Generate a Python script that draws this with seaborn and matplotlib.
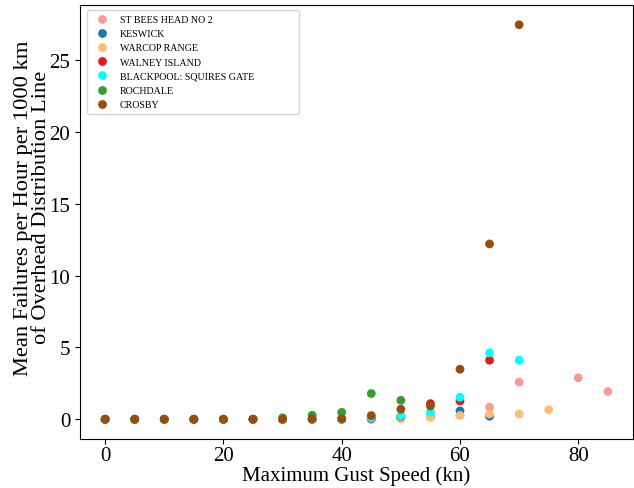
import numpy as np
import pandas as pd
import matplotlib
matplotlib.use("Agg")
import matplotlib.pyplot as plt
import seaborn as sns

# gust speed bins (kn) and mean failure rates per station
stations = ["ST BEES HEAD NO 2", "KESWICK", "WARCOP RANGE", "WALNEY ISLAND",
            "BLACKPOOL: SQUIRES GATE", "ROCHDALE", "CROSBY"]

st_bees_speed = [0, 5, 10, 15, 20, 25, 30, 35, 40, 45, 50, 55, 60, 65, 70, 80, 85]
st_bees_rate = [0, 0, 0, 0, 0, 0, 0, 0, 0, 0.02, 0.05, 0.15, 0.3, 0.84, 2.58, 2.88, 1.93]

keswick_speed = [0, 5, 10, 15, 20, 25, 30, 35, 40, 45, 50, 55, 60, 65]
keswick_rate = [0, 0, 0, 0, 0, 0, 0, 0, 0, 0.02, 0.1, 0.2, 0.58, 0.21]

warcop_speed = [0, 5, 10, 15, 20, 25, 30, 35, 40, 45, 50, 55, 60, 65, 70, 75]
warcop_rate = [0, 0, 0, 0, 0, 0, 0, 0, 0, 0.0, 0.05, 0.14, 0.26, 0.37, 0.37, 0.67]

walney_speed = [0, 5, 10, 15, 20, 25, 30, 35, 40, 45, 50, 55, 60, 65]
walney_rate = [0, 0, 0, 0, 0, 0, 0, 0, 0, 0.05, 0.2, 1.09, 1.28, 4.11]

blackpool_speed = [0, 5, 10, 15, 20, 25, 30, 35, 40, 45, 50, 55, 60, 65, 70]
blackpool_rate = [0, 0, 0, 0, 0, 0, 0, 0, 0, 0.1, 0.23, 0.51, 1.53, 4.62, 4.11]

rochdale_speed = [0, 5, 10, 15, 20, 25, 30, 35, 40, 45, 50]
rochdale_rate = [0, 0, 0, 0, 0, 0, 0.1, 0.28, 0.48, 1.79, 1.32]

crosby_speed = [0, 5, 10, 15, 20, 25, 30, 35, 40, 45, 50, 55, 60, 65, 70]
crosby_rate = [0, 0, 0, 0, 0, 0, 0, 0.02, 0.04, 0.26, 0.7, 0.93, 3.48, 12.2, 27.45]

colours = ["#fb9a99", "#1f78b4", "#fdbf6f", "#e31a1c", "#00ffff", "#33a02c", "#9a4b0e"]

speeds = [st_bees_speed, keswick_speed, warcop_speed, walney_speed,
          blackpool_speed, rochdale_speed, crosby_speed]
rates = [st_bees_rate, keswick_rate, warcop_rate, walney_rate,
         blackpool_rate, rochdale_rate, crosby_rate]

frames = []
for name, sp, rt in zip(stations, speeds, rates):
    frames.append(pd.DataFrame({"speed": sp, "rate": rt, "station": name}))
df = pd.concat(frames, ignore_index=True)

plt.rcParams["font.family"] = ["Liberation Serif", "DejaVu Serif"]

fig = plt.figure(figsize=(6.34, 4.89), dpi=100)
ax = fig.add_axes([0.1262, 0.1002, 0.8722, 0.8875])

sns.scatterplot(data=df, x="speed", y="rate", hue="station",
                hue_order=stations, palette=dict(zip(stations, colours)),
                s=40, linewidth=0, ax=ax)

ax.set_xlabel("Maximum Gust Speed (kn)", fontsize=15, labelpad=0)
ax.set_ylabel("Mean Failures per Hour per 1000 km\nof Overhead Distribution Line",
              fontsize=16.2, linespacing=0.95)
ax.yaxis.set_label_coords(-0.052, 0.535)
ax.tick_params(labelsize=15)
ax.tick_params(axis="x", pad=1.5)
ax.set_xticks([0, 20, 40, 60, 80])
ax.set_yticks([0, 5, 10, 15, 20, 25])

handles, labels = ax.get_legend_handles_labels()
ax.legend(handles, labels, loc="upper left", fontsize=7.2, frameon=True,
          labelspacing=0.52, handletextpad=0.75, borderpad=0.5,
          bbox_to_anchor=(0.0127, 0.9885, 0.383, 0.0), mode="expand",
          borderaxespad=0)

fig.savefig("out.png", dpi=100)
